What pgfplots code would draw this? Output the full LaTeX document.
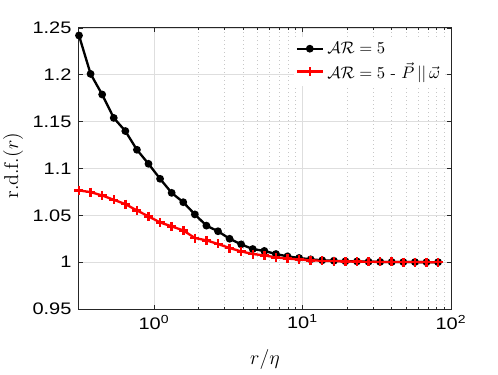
\documentclass[border=0pt]{standalone}
\usepackage{fontspec}
\usepackage{pgfplots}
\pgfplotsset{compat=1.18}
\newfontfamily\helv[FakeStretch=1.2]{Liberation Sans}

\pgfplotstableread{
x y
0.3126 1.242
0.3741 1.201
0.4477 1.179
0.5358 1.154
0.6412 1.140
0.7674 1.120
0.9183 1.105
1.099 1.089
1.315 1.074
1.574 1.064
1.884 1.051
2.254 1.039
2.698 1.033
3.228 1.025
3.864 1.019
4.624 1.014
5.534 1.012
6.622 1.0087
7.925 1.0062
9.484 1.0045
11.35 1.003
13.58 1.002
16.26 1.0015
19.45 1.001
23.28 1.0008
27.86 1.0005
33.34 1.0003
39.9 1.0002
47.75 1.0001
57.15 1.0001
68.39 1.0000
81.85 1.0000
}\blackdata

\pgfplotstableread{
x y
0.3126 1.0766
0.3741 1.0748
0.4477 1.0712
0.5358 1.0666
0.6412 1.0620
0.7674 1.0552
0.9183 1.0489
1.099 1.0424
1.315 1.0382
1.574 1.0339
1.884 1.0258
2.254 1.0233
2.698 1.0194
3.228 1.0151
3.864 1.0115
4.624 1.0087
5.534 1.0072
6.622 1.0051
7.925 1.0038
9.484 1.0029
11.35 1.0020
13.58 1.0015
16.26 1.0010
19.45 1.0008
23.28 1.0005
27.86 1.0004
33.34 1.0003
39.9 1.0002
47.75 1.0001
57.15 1.0001
68.39 1.0000
81.85 1.0000
}\reddata

\begin{document}
\begin{tikzpicture}
\begin{axis}[
  xmode=log, scale only axis, width=223.2pt, height=168.6pt,
  xmin=0.3126, xmax=100, ymin=0.95, ymax=1.25,
  xtick={1,10,100},
  xticklabels={10\textsuperscript{0},10\textsuperscript{1},10\textsuperscript{2}},
  ytick={0.95,1,1.05,1.1,1.15,1.2,1.25},
  yticklabels={0.95,1,1.05,1.1,1.15,1.2,1.25},
  ticklabel style={font=\helv\fontsize{10}{12}\selectfont},
  yticklabel style={xshift=-1pt},
  tick align=inside, tick pos=both,
  major tick length=2.4pt, minor tick length=1.5pt,
  axis line style={black!85, line width=0.6pt},
  tick style={black!85, line width=0.5pt},
  xmajorgrids, xminorgrids, ymajorgrids,
  major grid style={black!13, line width=0.5pt},
  minor grid style={black!22, dash pattern=on 0.6pt off 1.8pt, line width=0.5pt},
  xlabel={$r/\eta$}, ylabel={$\mathrm{r.d.f.}(r)$},
  label style={font=\fontsize{12}{14}\selectfont},
  xlabel style={at={(axis description cs:0.5,-0.18)}, anchor=center},
  ylabel style={at={(axis description cs:-0.177,0.51)}, anchor=center},
  legend style={at={(0.985,0.97)}, anchor=north east, draw=none, fill=white,
    font=\fontsize{9.6}{11}\selectfont, row sep=0pt, inner sep=1pt},
  legend cell align=left,
  legend image code/.code={\draw[mark repeat=2,mark phase=2,#1] plot coordinates {(0pt,0pt) (7.8pt,0pt) (15.6pt,0pt)};},
]
\addplot[black, line width=1.4pt, mark=*, mark size=1.6pt] table[x=x,y=y] {\blackdata};
\addlegendentry{$\mathcal{AR}=5$}
\addplot[red, line width=1.4pt, mark=+, mark size=2.7pt, mark options={line width=1.5pt}] table[x=x,y=y] {\reddata};
\addlegendentry{$\mathcal{AR}=5$ - $\vec{P}\,||\,\vec{\omega}$}
\end{axis}
\pgfresetboundingbox
\path ([xshift=-47.4pt,yshift=-39pt]current axis.south west) rectangle ([xshift=28.2pt,yshift=16.8pt]current axis.north east);
\end{tikzpicture}
\end{document}
